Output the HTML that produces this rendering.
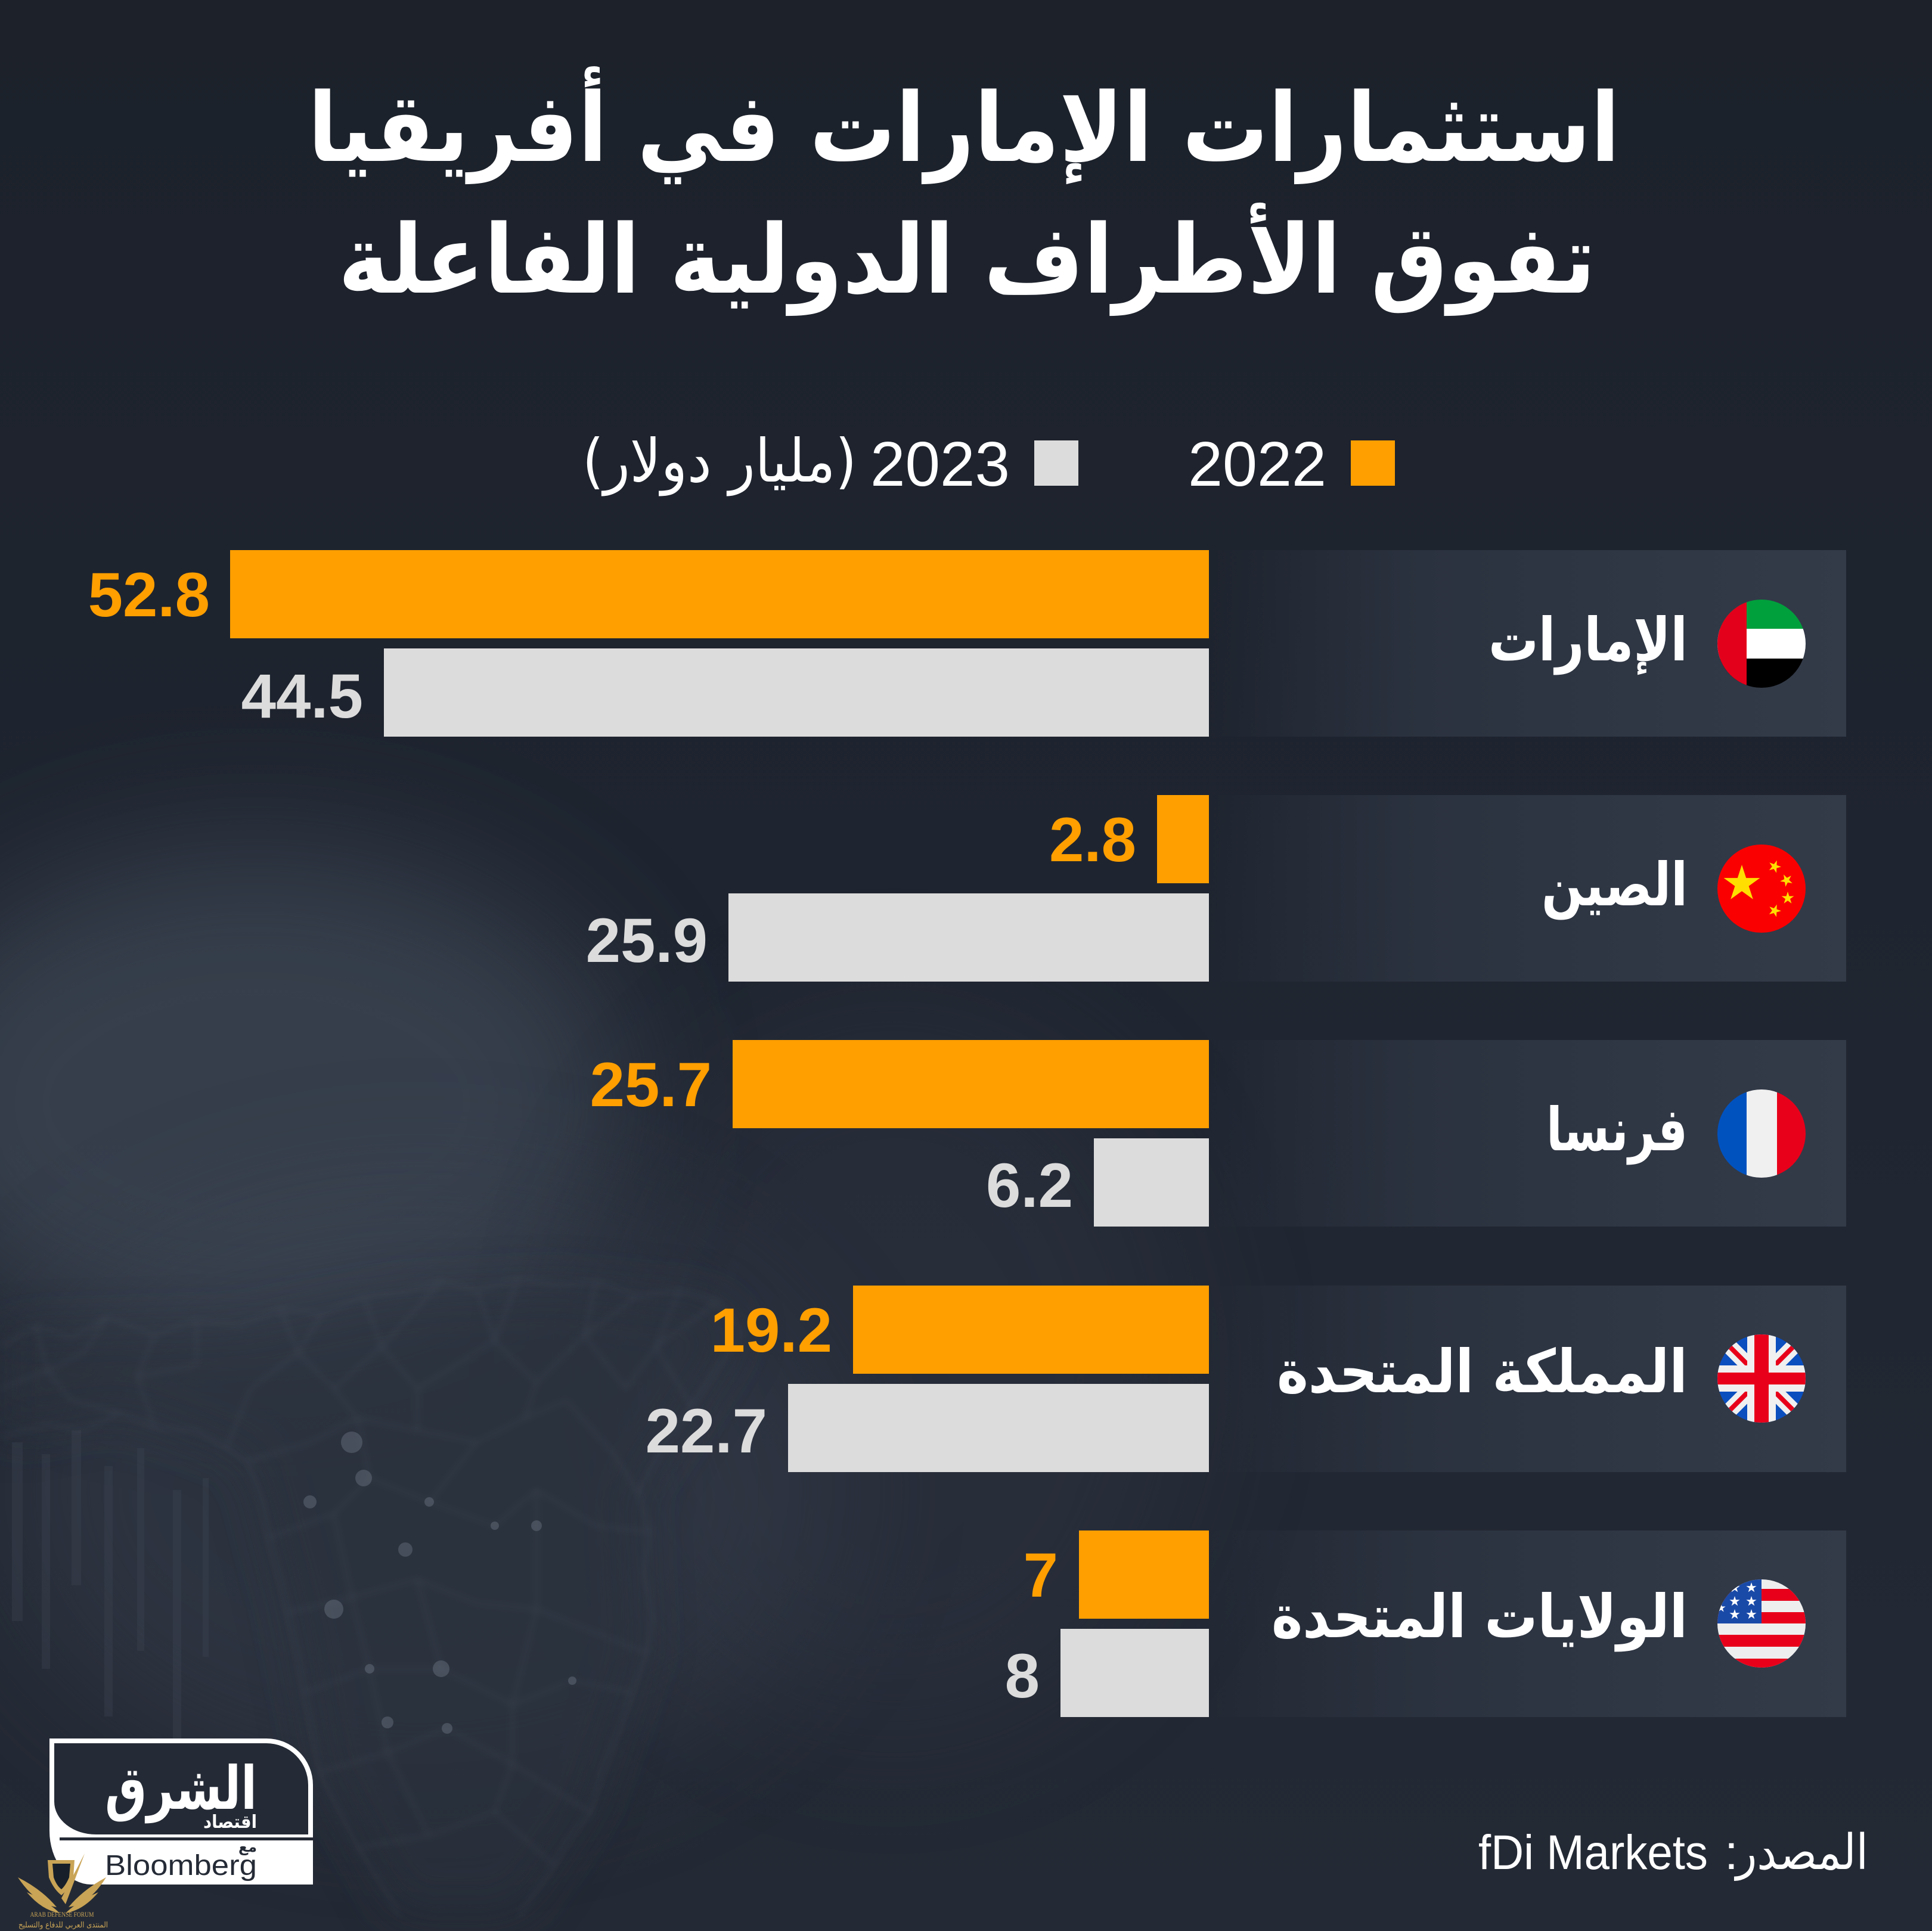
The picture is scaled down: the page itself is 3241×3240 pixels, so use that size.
<!DOCTYPE html>
<html><head><meta charset="utf-8"><style>
html,body{margin:0;padding:0;background:#1f2531;}
svg{display:block}
.ar{font-family:"DejaVu Sans",sans-serif}
.la{font-family:"Liberation Sans",sans-serif}
</style></head><body>
<svg xmlns="http://www.w3.org/2000/svg" width="3241" height="3240" viewBox="0 0 3241 3240">
<defs>
<linearGradient id="bg" x1="0" y1="0" x2="0" y2="1">
<stop offset="0" stop-color="#1c212a"/><stop offset="0.45" stop-color="#1f2530"/><stop offset="1" stop-color="#242a35"/>
</linearGradient>
<filter id="blur" x="-50%" y="-50%" width="200%" height="200%"><feGaussianBlur stdDeviation="110"/></filter>
<filter id="blur2" x="-50%" y="-50%" width="200%" height="200%"><feGaussianBlur stdDeviation="40"/></filter>
<filter id="blur3" x="-50%" y="-50%" width="200%" height="200%"><feGaussianBlur stdDeviation="6"/></filter>
<linearGradient id="panel" gradientUnits="userSpaceOnUse" x1="2028" y1="0" x2="3097" y2="0">
<stop offset="0" stop-color="#2b323f" stop-opacity="0"/><stop offset="0.33" stop-color="#2b323f" stop-opacity="1"/><stop offset="1" stop-color="#333b49" stop-opacity="1"/>
</linearGradient>
<clipPath id="cf"><circle cx="0" cy="0" r="74"/></clipPath>
<polygon id="star" points="0,-1 0.2245,-0.309 0.951,-0.309 0.363,0.118 0.588,0.809 0,0.382 -0.588,0.809 -0.363,0.118 -0.951,-0.309 -0.2245,-0.309"/>
</defs>

<!-- background -->
<rect x="0" y="0" width="3241" height="3240" fill="url(#bg)"/>
<ellipse cx="430" cy="1850" rx="620" ry="430" fill="#4a5262" opacity="0.55" filter="url(#blur)"/>
<ellipse cx="700" cy="2500" rx="700" ry="500" fill="#3c4452" opacity="0.4" filter="url(#blur)"/>
<ellipse cx="1500" cy="2300" rx="500" ry="600" fill="#343b48" opacity="0.3" filter="url(#blur)"/>
<path d="M0,2237 L402,2224 L670,2170 L937,2157 L1205,2184 L1245,2237 L1071,2505 L1085,2773 L991,3041 L870,3215 L670,3215 L536,2974 L482,2706 L415,2452 L201,2371 L0,2411 Z" fill="#2a303c" opacity="0.6" filter="url(#blur2)"/>
<!-- faint vertical bars left -->
<g fill="#3e4553" opacity="0.35">
<rect x="20" y="2420" width="18" height="300"/><rect x="70" y="2440" width="14" height="360"/><rect x="120" y="2400" width="16" height="260"/><rect x="175" y="2460" width="14" height="420"/><rect x="230" y="2430" width="12" height="340"/><rect x="290" y="2500" width="14" height="500"/><rect x="340" y="2480" width="10" height="300"/>
</g>
<g stroke="#6f7888" stroke-width="2.5" fill="none" opacity="0.28" filter="url(#blur3)">
<path d="M0,2260 L60,2225 L120,2245 L180,2210 L260,2240 L330,2215 L402,2224 L470,2195 L540,2205 L610,2175 L670,2170 L740,2150 L800,2165 L870,2145 L937,2157 L1000,2150 L1070,2175 L1140,2165 L1205,2184 L1245,2237 L1200,2300 L1160,2360 L1110,2430 L1071,2505 L1090,2570 L1080,2640 L1095,2710 L1085,2773 L1060,2840 L1040,2900 L1010,2970 L991,3041 L950,3090 L930,3130 L870,3215"/>
<path d="M0,2411 L80,2390 L140,2400 L201,2371 L260,2395 L330,2400 L380,2430 L415,2452 L440,2520 L450,2580 L470,2650 L482,2706 L500,2780 L510,2840 L525,2910 L536,2974 L570,3040 L600,3100 L640,3160 L670,3215"/>
<path d="M60,2225 L80,2300 L140,2270 L180,2210 M260,2240 L230,2310 L330,2290 L330,2215 M470,2195 L500,2270 L540,2205 M610,2175 L640,2260 L740,2150 M800,2165 L830,2250 L870,2145 M1000,2150 L980,2240 L1070,2175 M1140,2165 L1100,2260 L1205,2184 M0,2330 L80,2300 L120,2350 L201,2371 M230,2310 L260,2395 M380,2430 L420,2330 L500,2270 L560,2330 L640,2260 L700,2330 L830,2250 L900,2320 L980,2240 L1050,2330 L1100,2260 L1160,2360"/>
<path d="M415,2452 L520,2420 L600,2380 L700,2400 L800,2420 L880,2380 L950,2350 L1030,2440 L1071,2505 M450,2580 L560,2540 L620,2480 L720,2520 L800,2420 M720,2520 L830,2560 L900,2500 L1000,2560 L1090,2570 M482,2706 L590,2680 L700,2650 L800,2690 L900,2700 L1000,2740 L1085,2773 M510,2840 L620,2800 L740,2800 L860,2860 L960,2820 L1060,2840 M536,2974 L650,2940 L750,2900 L860,2960 L991,3041 M600,3100 L720,3080 L830,3040 L930,3130 M700,2650 L740,2800 M600,2380 L620,2480 L560,2540 L590,2680 L620,2800 L650,2940 L720,3080 M900,2500 L900,2700 L860,2860 L860,2960 L830,3040 M560,2330 L600,2380 M700,2330 L700,2400 M900,2320 L880,2380"/>
</g>
<g fill="#8a93a3" opacity="0.3">
<circle cx="590" cy="2420" r="18"/><circle cx="610" cy="2480" r="14"/><circle cx="560" cy="2700" r="16"/><circle cx="680" cy="2600" r="12"/><circle cx="740" cy="2800" r="14"/><circle cx="650" cy="2890" r="10"/><circle cx="900" cy="2560" r="9"/><circle cx="520" cy="2520" r="11"/><circle cx="620" cy="2800" r="8"/><circle cx="720" cy="2520" r="8"/><circle cx="830" cy="2560" r="7"/><circle cx="960" cy="2820" r="7"/><circle cx="750" cy="2900" r="9"/>
</g>

<!-- title -->
<text class="ar" x="1617" y="270" text-anchor="middle" font-size="160" font-weight="bold" fill="#ffffff" textLength="2201" lengthAdjust="spacingAndGlyphs">استثمارات الإمارات في أفريقيا</text>
<text class="ar" x="1622" y="491" text-anchor="middle" font-size="160" font-weight="bold" fill="#ffffff" textLength="2109" lengthAdjust="spacingAndGlyphs">تفوق الأطراف الدولية الفاعلة</text>

<!-- legend -->
<rect x="2266" y="739" width="74" height="76" fill="#ff9f00"/>
<text class="la" x="1993" y="815" font-size="106" fill="#ffffff" textLength="232" lengthAdjust="spacingAndGlyphs">2022</text>
<rect x="1735" y="739" width="74" height="76" fill="#dcdcdc"/>
<text class="la" x="1460" y="815" font-size="106" fill="#ffffff" textLength="234" lengthAdjust="spacingAndGlyphs">2023</text>
<text class="ar" x="977" y="808" font-size="100" fill="#ffffff" textLength="460" lengthAdjust="spacingAndGlyphs">(مليار دولار)</text>

<!-- panels -->
<rect x="2028" y="923" width="1069" height="313" fill="url(#panel)"/>
<rect x="2028" y="1334" width="1069" height="313" fill="url(#panel)"/>
<rect x="2028" y="1745" width="1069" height="313" fill="url(#panel)"/>
<rect x="2028" y="2157" width="1069" height="313" fill="url(#panel)"/>
<rect x="2028" y="2568" width="1069" height="313" fill="url(#panel)"/>

<!-- bars -->
<g>
<rect x="386" y="923" width="1642" height="148" fill="#ff9f00"/>
<rect x="644" y="1088" width="1384" height="148" fill="#dcdcdc"/>
<rect x="1941" y="1334" width="87" height="148" fill="#ff9f00"/>
<rect x="1222" y="1499" width="806" height="148" fill="#dcdcdc"/>
<rect x="1229" y="1745" width="799" height="148" fill="#ff9f00"/>
<rect x="1835" y="1910" width="193" height="148" fill="#dcdcdc"/>
<rect x="1431" y="2157" width="597" height="148" fill="#ff9f00"/>
<rect x="1322" y="2322" width="706" height="148" fill="#dcdcdc"/>
<rect x="1810" y="2568" width="218" height="148" fill="#ff9f00"/>
<rect x="1779" y="2733" width="249" height="148" fill="#dcdcdc"/>
</g>

<!-- value labels -->
<g class="la" font-size="105" font-weight="bold" text-anchor="end">
<text x="352" y="1034" fill="#ff9f00">52.8</text>
<text x="609" y="1204" fill="#dcdcdc">44.5</text>
<text x="1906" y="1445" fill="#ff9f00">2.8</text>
<text x="1187" y="1614" fill="#dcdcdc">25.9</text>
<text x="1194" y="1856" fill="#ff9f00">25.7</text>
<text x="1800" y="2025" fill="#dcdcdc">6.2</text>
<text x="1396" y="2268" fill="#ff9f00">19.2</text>
<text x="1287" y="2437" fill="#dcdcdc">22.7</text>
<text x="1775" y="2679" fill="#ff9f00">7</text>
<text x="1744" y="2848" fill="#dcdcdc">8</text>
</g>

<!-- country labels -->
<g class="ar" font-size="100" font-weight="bold" fill="#ffffff" text-anchor="end">
<text x="2831" y="1108" textLength="334" lengthAdjust="spacingAndGlyphs">الإمارات</text>
<text x="2831" y="1519" textLength="245" lengthAdjust="spacingAndGlyphs">الصين</text>
<text x="2831" y="1930" textLength="237" lengthAdjust="spacingAndGlyphs">فرنسا</text>
<text x="2831" y="2336" textLength="689" lengthAdjust="spacingAndGlyphs">المملكة المتحدة</text>
<text x="2831" y="2747" textLength="698" lengthAdjust="spacingAndGlyphs">الولايات المتحدة</text>
</g>

<!-- flags -->
<g transform="translate(2955,1080)"><g clip-path="url(#cf)">
<rect x="-74" y="-74" width="148" height="50" fill="#00a03c"/>
<rect x="-74" y="-25" width="148" height="50" fill="#ffffff"/>
<rect x="-74" y="25" width="148" height="50" fill="#000000"/>
<rect x="-74" y="-74" width="49" height="148" fill="#e2001a"/>
</g></g>

<g transform="translate(2955,1491)"><g clip-path="url(#cf)">
<rect x="-74" y="-74" width="148" height="148" fill="#fa0000"/>
<use href="#star" fill="#ffde00" transform="translate(-33,-8) scale(32)"/>
<use href="#star" fill="#ffde00" transform="translate(22,-37) rotate(20) scale(11)"/>
<use href="#star" fill="#ffde00" transform="translate(42,-14) rotate(45) scale(11)"/>
<use href="#star" fill="#ffde00" transform="translate(44,16) rotate(0) scale(11)"/>
<use href="#star" fill="#ffde00" transform="translate(22,37) rotate(20) scale(11)"/>
</g></g>

<g transform="translate(2955,1902)"><g clip-path="url(#cf)">
<rect x="-74" y="-74" width="49" height="148" fill="#0052bf"/>
<rect x="-25" y="-74" width="52" height="148" fill="#f0f0f0"/>
<rect x="26" y="-74" width="49" height="148" fill="#e8001a"/>
</g></g>

<g transform="translate(2955,2313)"><g clip-path="url(#cf)">
<rect x="-74" y="-74" width="148" height="148" fill="#0b4fbf"/>
<path d="M-80,-80 L80,80 M-80,80 L80,-80" stroke="#f0f0f0" stroke-width="26"/>
<path d="M-80,-80 L80,80 M-80,80 L80,-80" stroke="#e8001a" stroke-width="8"/>
<rect x="-24" y="-74" width="48" height="148" fill="#f0f0f0"/>
<rect x="-74" y="-22" width="148" height="44" fill="#f0f0f0"/>
<rect x="-12" y="-74" width="24" height="148" fill="#e8001a"/>
<rect x="-74" y="-10" width="148" height="20" fill="#e8001a"/>
</g></g>

<g transform="translate(2955,2724)"><g clip-path="url(#cf)">
<rect x="-74" y="-74" width="148" height="148" fill="#eeeeee"/>
<rect x="-74" y="-58" width="148" height="20" fill="#e8001a"/>
<rect x="-74" y="-19" width="148" height="19" fill="#e8001a"/>
<rect x="-74" y="19" width="148" height="20" fill="#e8001a"/>
<rect x="-74" y="59" width="148" height="16" fill="#e8001a"/>
<rect x="-74" y="-74" width="74" height="74" fill="#1a4aa8"/>
<g fill="#ffffff">
<use href="#star" transform="translate(-45,-60) scale(9)"/>
<use href="#star" transform="translate(-17,-60) scale(9)"/>
<use href="#star" transform="translate(-45,-37) scale(9)"/>
<use href="#star" transform="translate(-17,-37) scale(9)"/>
<use href="#star" transform="translate(-45,-15) scale(9)"/>
<use href="#star" transform="translate(-17,-15) scale(9)"/>
<use href="#star" transform="translate(-68,-48) scale(8)"/>
<use href="#star" transform="translate(-68,-26) scale(8)"/>
</g>
</g></g>

<!-- logo -->
<path d="M83,2917 H447 A78,78 0 0 1 525,2995 V3162 H153 A70,90 0 0 1 83,3072 Z" fill="#ffffff"/>
<path d="M91,2925 H447 A70,70 0 0 1 517,2995 V3078 H161 A70,55 0 0 1 91,3023 Z" fill="#252b36"/>
<rect x="100" y="3083" width="425" height="5" fill="#252b36"/>
<text class="ar" x="431" y="3035" text-anchor="end" font-size="100" font-weight="bold" fill="#ffffff" textLength="255" lengthAdjust="spacingAndGlyphs">الشرق</text>
<text class="ar" x="431" y="3067" text-anchor="end" font-size="30" font-weight="bold" fill="#ffffff" textLength="90" lengthAdjust="spacingAndGlyphs">اقتصاد</text>
<text class="ar" x="431" y="3107" text-anchor="end" font-size="24" font-weight="bold" fill="#252b36" textLength="31" lengthAdjust="spacingAndGlyphs">مع</text>
<text class="la" x="176" y="3146" font-size="48" fill="#252b36" textLength="255" lengthAdjust="spacingAndGlyphs">Bloomberg</text>

<!-- watermark -->
<g fill="#c9a456">
<path d="M30,3150 Q70,3170 95,3200 Q60,3195 30,3150 Z"/>
<path d="M178,3150 Q140,3170 115,3200 Q150,3195 178,3150 Z"/>
<path d="M45,3175 Q80,3190 100,3210 Q70,3205 45,3175 Z"/>
<path d="M165,3175 Q130,3190 110,3210 Q140,3205 165,3175 Z"/>
<path d="M80,3121 L125,3121 L123,3150 Q115,3170 103,3180 Q90,3170 82,3150 Z"/>
<path d="M103,3185 L142,3110 L110,3195 Z"/>
</g>
<path d="M88,3127 L118,3127 L116,3150 Q110,3164 103,3170 Q95,3164 90,3150 Z" fill="#17202a"/>
<text x="104" y="3216" text-anchor="middle" font-family="Liberation Serif, serif" font-size="12" fill="#c9a456" textLength="107" lengthAdjust="spacingAndGlyphs">ARAB DEFENSE FORUM</text>
<text class="ar" x="106" y="3234" text-anchor="middle" font-size="13" fill="#c9a456" textLength="150" lengthAdjust="spacingAndGlyphs">المنتدى العربي للدفاع والتسليح</text>

<!-- source -->
<text class="la" x="2480" y="3136" font-size="82" fill="#ffffff" textLength="385" lengthAdjust="spacingAndGlyphs">fDi Markets</text>
<text class="la" x="2893" y="3136" font-size="82" fill="#ffffff">:</text>
<text class="ar" x="3134" y="3136" text-anchor="end" font-size="82" fill="#ffffff" textLength="222" lengthAdjust="spacingAndGlyphs">المصدر</text>
</svg>
</body></html>
